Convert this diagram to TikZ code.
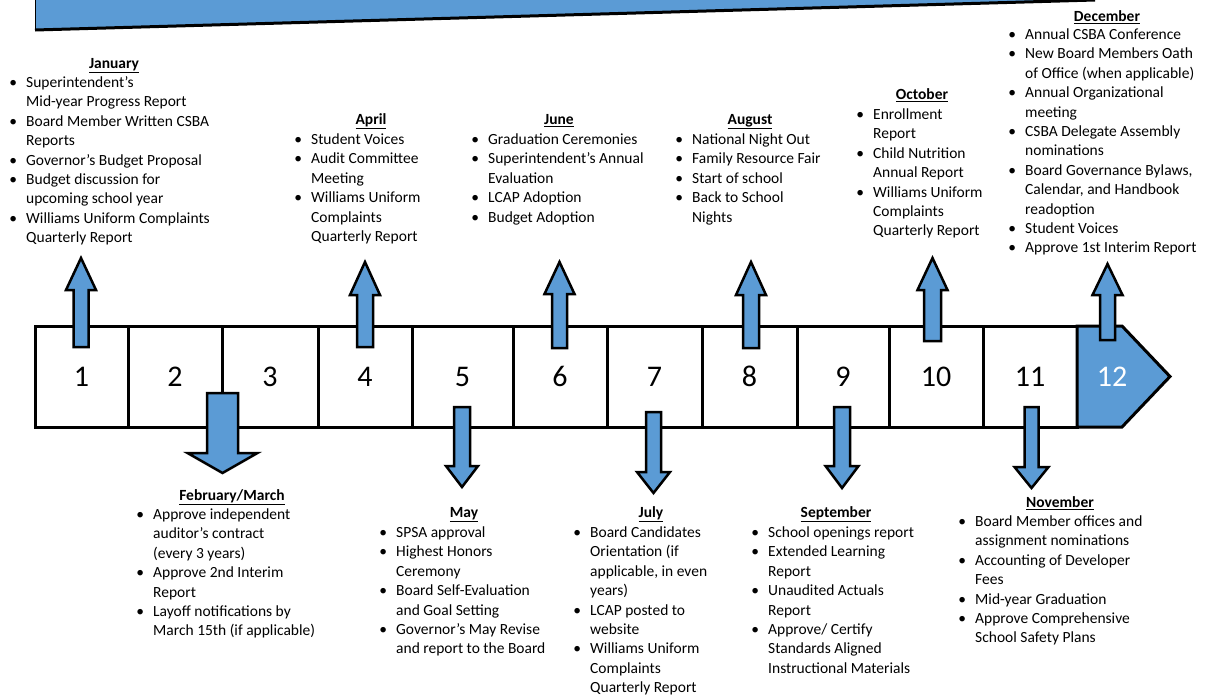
\documentclass[tikz,border=0pt]{standalone}
\usepackage{fontspec}
\setmainfont{Carlito}
\definecolor{mblue}{HTML}{5B9BD5}
\newcommand\bul{\llap{\makebox[0pt]{\textbullet}\hspace{13pt}}}
\newcommand\mhead[1]{\textbf{\underline{#1}}}
\tikzset{
  txt/.style={inner sep=0pt, anchor=base west, font=\fontsize{15.5}{19.4}\selectfont},
  hd/.style={inner sep=0pt, anchor=base, font=\fontsize{15.5}{19.4}\selectfont},
  mbox/.style={draw, line width=3pt, minimum height=101pt, inner sep=0pt, font=\fontsize{30}{30}\selectfont},
  blk/.style={fill=mblue, draw=black, line width=2.5pt, line join=miter},
}
% up arrow: cx, bottom, headbase, tip, shaft half, head half
\newcommand\uparr[6]{\path[blk] ({#1-#5},#2) -- ({#1+#5},#2) -- ({#1+#5},#3) -- ({#1+#6},#3) -- (#1,#4) -- ({#1-#6},#3) -- ({#1-#5},#3) -- cycle;}
\begin{document}
\begin{tikzpicture}[x=1pt,y=-1pt]
\useasboundingbox (0,0) rectangle (1205,694);
% banner
\fill[mblue] (35,0) -- (35,30) -- (1095,0) -- cycle;
\draw[line width=1pt] (35,0) -- (35,30);
\draw[line width=3pt] (35,30) -- (1095,0);
% month boxes
\node[mbox, minimum width=93pt] (m1) at (81.5,376.5) {1};
\node[mbox, minimum width=94pt] (m2) at (175,376.5) {2};
\node[mbox, minimum width=96pt] (m3) at (270,376.5) {3};
\node[mbox, minimum width=94pt] (m4) at (365,376.5) {4};
\node[mbox, minimum width=101pt] (m5) at (462.5,376.5) {5};
\node[mbox, minimum width=94pt] (m6) at (560,376.5) {6};
\node[mbox, minimum width=95pt] (m7) at (654.5,376.5) {7};
\node[mbox, minimum width=95pt] (m8) at (749.5,376.5) {8};
\node[mbox, minimum width=92pt] (m9) at (843,376.5) {9};
\node[mbox, minimum width=94pt] (m10) at (936,376.5) {10};
\node[mbox, minimum width=94pt] (m11) at (1030,376.5) {11};
\path[blk, line width=3pt] (1077,326) -- (1122,326) -- (1170,376.5) -- (1122,427) -- (1077,427) -- cycle;
\node[inner sep=0pt, text=white, font=\fontsize{30}{30}\selectfont] (m12) at (1112,376.5) {12};
% up arrows
\uparr{81}{347}{290}{258}{7.5}{15}
\uparr{365}{347}{295}{262}{8}{15}
\uparr{559.5}{348}{294}{262}{7.5}{15}
\uparr{751}{348}{295}{262}{8}{15}
\uparr{932.5}{341}{290}{258}{8.5}{15}
\uparr{1107.5}{340}{295}{264}{7.5}{15}
% down arrows
\uparr{222.5}{393}{453}{473}{15.5}{35}
\uparr{462}{407}{466}{487}{8}{16}
\uparr{653.5}{412}{472}{493}{7.5}{16.5}
\uparr{842}{407}{466}{488}{8}{16.5}
\uparr{1031.5}{407}{467}{488}{7}{17}
% January
\node[hd] (hjan) at (114,68.5) {\mhead{January}};
\node[txt] (tjan) at (26,87.5) {\begin{tabular}[t]{@{}l@{}}
\bul Superintendent’s\\
Mid-year Progress Report\\
\bul Board Member Written CSBA\\
Reports\\
\bul Governor’s Budget Proposal\\
\bul Budget discussion for\\
upcoming school year\\
\bul Williams Uniform Complaints\\
Quarterly Report\end{tabular}};
% April
\node[hd] (hapr) at (371,124.5) {\mhead{April}};
\node[txt] (tapr) at (311,144.5) {\begin{tabular}[t]{@{}l@{}}
\bul Student Voices\\
\bul Audit Committee\\
Meeting\\
\bul Williams Uniform\\
Complaints\\
Quarterly Report\end{tabular}};
% June
\node[hd] (hjun) at (559,124.5) {\mhead{June}};
\node[txt] (tjun) at (488,144.5) {\begin{tabular}[t]{@{}l@{}}
\bul Graduation Ceremonies\\
\bul Superintendent’s Annual\\
Evaluation\\
\bul LCAP Adoption\\
\bul Budget Adoption\end{tabular}};
% August
\node[hd] (haug) at (750,124.5) {\mhead{August}};
\node[txt] (taug) at (692,144.5) {\begin{tabular}[t]{@{}l@{}}
\bul National Night Out\\
\bul Family Resource Fair\\
\bul Start of school\\
\bul Back to School\\
Nights\end{tabular}};
% October
\node[hd] (hoct) at (922,99.5) {\mhead{October}};
\node[txt] (toct) at (873,119.5) {\begin{tabular}[t]{@{}l@{}}
\bul Enrollment\\
Report\\
\bul Child Nutrition\\
Annual Report\\
\bul Williams Uniform\\
Complaints\\
Quarterly Report\end{tabular}};
% December
\node[hd] (hdec) at (1107,21.5) {\mhead{December}};
\node[txt] (tdec) at (1025,39.5) {\begin{tabular}[t]{@{}l@{}}
\bul Annual CSBA Conference\\
\bul New Board Members Oath\\
of Office (when applicable)\\
\bul Annual Organizational\\
meeting\\
\bul CSBA Delegate Assembly\\
nominations\\
\bul Board Governance Bylaws,\\
Calendar, and Handbook\\
readoption\\
\bul Student Voices\\
\bul Approve 1st Interim Report\end{tabular}};
% February/March
\node[hd] (hfeb) at (232,500.5) {\mhead{February/March}};
\node[txt] (tfeb) at (153,519.5) {\begin{tabular}[t]{@{}l@{}}
\bul Approve independent\\
auditor’s contract\\
(every 3 years)\\
\bul Approve 2nd Interim\\
Report\\
\bul Layoff notifications by\\
March 15th (if applicable)\end{tabular}};
% May
\node[hd] (hmay) at (464,517.5) {\mhead{May}};
\node[txt] (tmay) at (396,537.5) {\begin{tabular}[t]{@{}l@{}}
\bul SPSA approval\\
\bul Highest Honors\\
Ceremony\\
\bul Board Self-Evaluation\\
and Goal Setting\\
\bul Governor’s May Revise\\
and report to the Board\end{tabular}};
% July
\node[hd] (hjul) at (651,517.5) {\mhead{July}};
\node[txt] (tjul) at (590,537.5) {\begin{tabular}[t]{@{}l@{}}
\bul Board Candidates\\
Orientation (if\\
applicable, in even\\
years)\\
\bul LCAP posted to\\
website\\
\bul Williams Uniform\\
Complaints\\
Quarterly Report\end{tabular}};
% September
\node[hd] (hsep) at (836,517.5) {\mhead{September}};
\node[txt] (tsep) at (768,537.5) {\begin{tabular}[t]{@{}l@{}}
\bul School openings report\\
\bul Extended Learning\\
Report\\
\bul Unaudited Actuals\\
Report\\
\bul Approve/ Certify\\
Standards Aligned\\
Instructional Materials\end{tabular}};
% November
\node[hd] (hnov) at (1060,507.5) {\mhead{November}};
\node[txt] (tnov) at (975,526.5) {\begin{tabular}[t]{@{}l@{}}
\bul Board Member offices and\\
assignment nominations\\
\bul Accounting of Developer\\
Fees\\
\bul Mid-year Graduation\\
\bul Approve Comprehensive\\
School Safety Plans\end{tabular}};
\end{tikzpicture}
\end{document}
